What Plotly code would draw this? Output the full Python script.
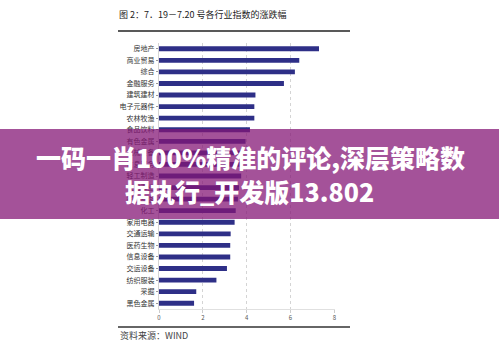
import plotly.graph_objects as go

categories = ["房地产", "商业贸易", "综合", "金融服务", "建筑建材", "电子元器件", "农林牧渔",
              "食品饮料", "有色金属", "机械设备", "信息服务", "轻工制造", "公用事业", "餐饮旅游",
              "化工", "家用电器", "交通运输", "医药生物", "信息设备", "交运设备", "纺织服装",
              "采掘", "黑色金属"]
values = [7.3, 6.4, 6.2, 5.7, 4.4, 4.35, 4.35, 4.15, 3.95, 3.85, 3.8, 3.75, 3.65, 3.6,
          3.5, 3.45, 3.27, 3.25, 3.25, 3.1, 2.62, 1.7, 1.6]
x_ticks = [0, 2, 4, 6, 8]

title_text = "图 2：7．19－7.20 号各行业指数的涨跌幅"
source_text = "资料来源：WIND"
banner_line1 = "一码一肖100%精准的评论,深层策略数"
banner_line2 = "据执行_开发版13.802"

W, H = 499, 349
L, R, T, B = 159, 164, 43, 40
PW, PH = W - L - R, H - T - B


def px(xp):
    return (xp - L) / PW


def py(yp):
    return (H - B - yp) / PH


CJK = "Noto Sans CJK SC"

fig = go.Figure(go.Bar(
    x=values, y=categories, orientation="h",
    marker=dict(color="#2E2F87", line=dict(width=0)),
    width=0.42,
))

fig.update_layout(
    width=W, height=H,
    margin=dict(l=L, r=R, t=T, b=B),
    paper_bgcolor="white", plot_bgcolor="white",
    showlegend=False,
    xaxis=dict(range=[0, 8.03], tickvals=x_ticks, ticktext=[str(v) for v in x_ticks],
               showgrid=True, gridcolor="#d4d4d4", griddash="dot", gridwidth=1,
               zeroline=False, showline=True, linecolor="#e0e0e0", linewidth=1,
               ticks="outside", ticklen=3, tickcolor="#cccccc",
               tickfont=dict(family=CJK, size=6, color="#555555")),
    yaxis=dict(autorange="reversed", showgrid=False, zeroline=False,
               showline=True, linecolor="#d4d4d4", linewidth=1,
               ticks="outside", ticklen=2, tickcolor="#999999",
               tickfont=dict(family=CJK, size=7, color="#333333")),
    bargap=0.58,
)

shapes = [
    dict(type="line", xref="paper", yref="paper", x0=px(118), x1=px(350), y0=py(31), y1=py(31),
         line=dict(color="#222222", width=1.5)),
    dict(type="line", xref="paper", yref="paper", x0=px(118), x1=px(350), y0=py(327), y1=py(327),
         line=dict(color="#333333", width=1.5)),
    dict(type="rect", xref="paper", yref="paper", x0=px(0), x1=px(W), y0=py(219), y1=py(129),
         fillcolor="rgb(132,22,118)", opacity=0.74, line=dict(width=0), layer="above"),
]
fig.update_layout(shapes=shapes)

annotations = [
    dict(text=title_text, xref="paper", yref="paper", x=px(117), y=py(15),
         xanchor="left", yanchor="middle", showarrow=False,
         font=dict(family=CJK, size=9, color="#222222")),
    dict(text=source_text, xref="paper", yref="paper", x=px(118), y=py(335),
         xanchor="left", yanchor="middle", showarrow=False,
         font=dict(family=CJK, size=9, color="#444444")),
    dict(text=banner_line1, xref="paper", yref="paper", x=px(250), y=py(157),
         xanchor="center", yanchor="middle", showarrow=False,
         font=dict(family=CJK, size=25, color="white", weight=900)),
    dict(text=banner_line2, xref="paper", yref="paper", x=px(249), y=py(191),
         xanchor="center", yanchor="middle", showarrow=False,
         font=dict(family=CJK, size=25, color="white", weight=900)),
]
fig.update_layout(annotations=annotations)

fig.write_html("out.html")
